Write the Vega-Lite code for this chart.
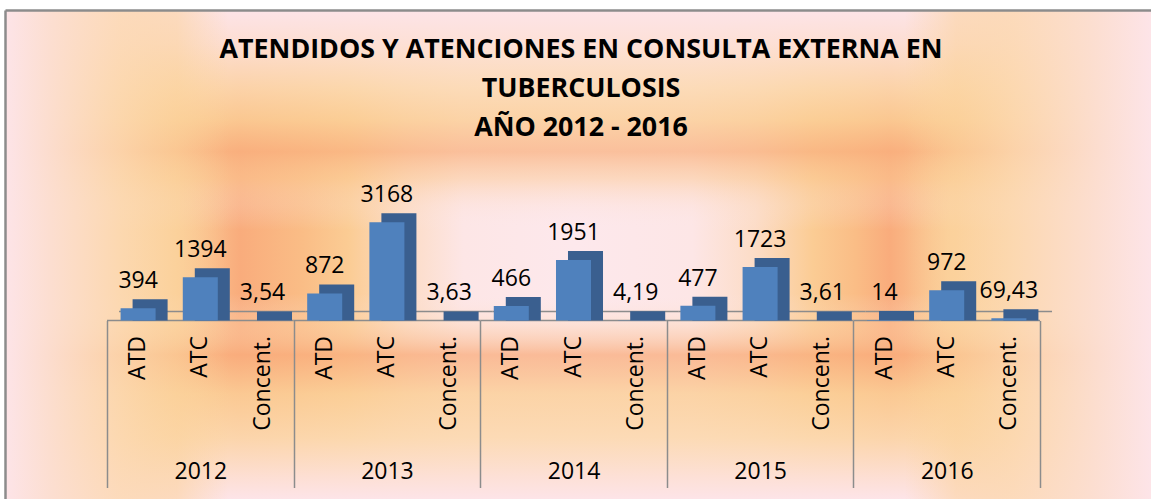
{
  "$schema": "https://vega.github.io/schema/vega-lite/v6.json",
  "width": 1146,
  "height": 489,
  "autosize": {"type": "none"},
  "padding": {"left": 5, "top": 10, "right": 0, "bottom": 0},
  "background": "white",
  "title": {
    "text": ["ATENDIDOS Y ATENCIONES EN CONSULTA EXTERNA EN", "TUBERCULOSIS", "AÑO 2012 - 2016"],
    "font": "Open Sans",
    "fontSize": 26.8,
    "fontWeight": "bold",
    "color": "#000000",
    "anchor": "middle",
    "frame": "group",
    "baseline": "top",
    "lineHeight": 39,
    "offset": 0,
    "dy": 132,
    "dx": 3,
    "zindex": 2
  },
  "config": {
    "view": {
      "stroke": null,
      "fill": {
        "gradient": "linear",
        "x1": 0, "y1": 0, "x2": 1, "y2": 0,
        "stops": [
          {"offset": 0.004, "color": "#fde4e8"},
          {"offset": 0.05, "color": "#fcdccb"},
          {"offset": 0.1, "color": "#fcd8b0"},
          {"offset": 0.15, "color": "#fbd09a"},
          {"offset": 0.205, "color": "#f9ac7c"},
          {"offset": 0.26, "color": "#fabd86"},
          {"offset": 0.3, "color": "#fbcc94"},
          {"offset": 0.35, "color": "#fcdcc6"},
          {"offset": 0.4, "color": "#fde6e6"},
          {"offset": 0.497, "color": "#fde8ec"},
          {"offset": 0.6, "color": "#fde6e6"},
          {"offset": 0.655, "color": "#fcdcc6"},
          {"offset": 0.705, "color": "#fbcc94"},
          {"offset": 0.742, "color": "#fabd86"},
          {"offset": 0.772, "color": "#f9ac7c"},
          {"offset": 0.825, "color": "#fbd09a"},
          {"offset": 0.877, "color": "#fcd8b0"},
          {"offset": 0.94, "color": "#fcdccb"},
          {"offset": 0.995, "color": "#fde4e8"}
        ]
      }
    }
  },
  "datasets": {
    "rows": [
      {"year": "2012", "cat": "ATD", "key": "2012|ATD", "value": 394, "label": "394"},
      {"year": "2012", "cat": "ATC", "key": "2012|ATC", "value": 1394, "label": "1394"},
      {"year": "2012", "cat": "Concent.", "key": "2012|Concent.", "value": 3.54, "label": "3,54"},
      {"year": "2013", "cat": "ATD", "key": "2013|ATD", "value": 872, "label": "872"},
      {"year": "2013", "cat": "ATC", "key": "2013|ATC", "value": 3168, "label": "3168"},
      {"year": "2013", "cat": "Concent.", "key": "2013|Concent.", "value": 3.63, "label": "3,63"},
      {"year": "2014", "cat": "ATD", "key": "2014|ATD", "value": 466, "label": "466"},
      {"year": "2014", "cat": "ATC", "key": "2014|ATC", "value": 1951, "label": "1951"},
      {"year": "2014", "cat": "Concent.", "key": "2014|Concent.", "value": 4.19, "label": "4,19"},
      {"year": "2015", "cat": "ATD", "key": "2015|ATD", "value": 477, "label": "477"},
      {"year": "2015", "cat": "ATC", "key": "2015|ATC", "value": 1723, "label": "1723"},
      {"year": "2015", "cat": "Concent.", "key": "2015|Concent.", "value": 3.61, "label": "3,61"},
      {"year": "2016", "cat": "ATD", "key": "2016|ATD", "value": 14, "label": "14"},
      {"year": "2016", "cat": "ATC", "key": "2016|ATC", "value": 972, "label": "972"},
      {"year": "2016", "cat": "Concent.", "key": "2016|Concent.", "value": 69.43, "label": "69,43"}
    ],
    "years": [
      {"year": "2012"}, {"year": "2013"}, {"year": "2014"}, {"year": "2015"}, {"year": "2016"}
    ],
    "one": [{"bg": 1}]
  },
  "resolve": {"scale": {"x": "independent"}, "axis": {"x": "independent"}},
  "layer": [
    {
      "data": {"name": "one"},
      "mark": {
        "type": "rect",
        "fill": {
          "gradient": "linear",
          "x1": 0, "y1": 0, "x2": 0, "y2": 1,
          "stops": [
            {"offset": 0.0, "color": "rgba(253,228,232,1)"},
            {"offset": 0.07, "color": "rgba(253,224,214,0.95)"},
            {"offset": 0.16, "color": "rgba(252,217,176,0.85)"},
            {"offset": 0.225, "color": "rgba(251,206,150,0.8)"},
            {"offset": 0.29, "color": "rgba(249,176,126,0.72)"},
            {"offset": 0.345, "color": "rgba(251,200,148,0.5)"},
            {"offset": 0.4, "color": "rgba(252,222,205,0.25)"},
            {"offset": 0.45, "color": "rgba(253,232,236,0)"},
            {"offset": 0.58, "color": "rgba(253,232,236,0)"},
            {"offset": 0.635, "color": "rgba(252,215,180,0.3)"},
            {"offset": 0.705, "color": "rgba(249,172,124,0.75)"},
            {"offset": 0.785, "color": "rgba(251,207,152,0.82)"},
            {"offset": 0.875, "color": "rgba(252,217,176,0.9)"},
            {"offset": 0.955, "color": "rgba(253,224,214,0.97)"},
            {"offset": 1.0, "color": "rgba(253,228,232,1)"}
          ]
        }
      },
      "encoding": {}
    },
    {
      "data": {"name": "one"},
      "mark": {
        "type": "rect",
        "fill": {
          "gradient": "linear",
          "x1": 0, "y1": 0, "x2": 1, "y2": 0,
          "stops": [
            {"offset": 0.0, "color": "rgba(253,228,232,1)"},
            {"offset": 0.04, "color": "rgba(252,222,208,0.95)"},
            {"offset": 0.1, "color": "rgba(252,216,176,0.8)"},
            {"offset": 0.15, "color": "rgba(251,210,156,0.55)"},
            {"offset": 0.195, "color": "rgba(251,210,156,0)"},
            {"offset": 0.785, "color": "rgba(251,210,156,0)"},
            {"offset": 0.83, "color": "rgba(251,210,156,0.55)"},
            {"offset": 0.88, "color": "rgba(252,216,176,0.8)"},
            {"offset": 0.95, "color": "rgba(252,222,208,0.95)"},
            {"offset": 1.0, "color": "rgba(253,228,232,1)"}
          ]
        }
      },
      "encoding": {}
    },
    {
      "data": {"name": "years"},
      "mark": {"type": "bar", "fill": null, "stroke": "#8c8c8c", "strokeWidth": 1.5, "xOffset": 12, "yOffset": -9, "y2Offset": -9},
      "encoding": {
        "x": {"field": "year", "type": "nominal", "sort": null,
              "scale": {"type": "band", "paddingInner": 0, "paddingOuter": 0.5708, "align": 0.479},
              "axis": {"orient": "top", "domain": true, "domainColor": "#8c8c8c", "domainWidth": 2.5, "ticks": false, "labels": false, "title": null, "zindex": 1}},
        "y": {"datum": 0, "type": "quantitative", "scale": {"domain": [-5758, 10016], "nice": false, "zero": false},
              "axis": {"orient": "left", "domain": true, "domainColor": "#8c8c8c", "domainWidth": 2.5, "ticks": false, "labels": false, "grid": false, "title": null, "zindex": 1}},
        "y2": {"datum": 0}
      }
    },
    {
      "data": {"name": "years"},
      "mark": {"type": "bar", "fill": null, "stroke": "#8c8c8c", "strokeWidth": 1.5},
      "encoding": {
        "x": {"field": "year", "type": "nominal", "sort": null,
              "scale": {"type": "band", "paddingInner": 0, "paddingOuter": 0.5708, "align": 0.479},
              "axis": {"orient": "bottom", "offset": -178.5, "domain": false, "ticks": true, "tickBand": "extent",
                       "tickSize": 167, "tickColor": "#8c8c8c", "tickWidth": 1.5, "labelPadding": -27,
                       "labelAngle": 0, "labelFont": "Open Sans", "labelFontSize": 23, "labelColor": "#000000", "title": null, "zindex": 1}},
        "y": {"datum": 0, "type": "quantitative"},
        "y2": {"datum": 0}
      }
    },
    {
      "data": {"name": "rows"},
      "mark": {"type": "bar", "fill": "#3a5f8f", "xOffset": 12, "yOffset": -9, "y2Offset": 0},
      "encoding": {
        "x": {"field": "key", "type": "nominal", "sort": null,
              "scale": {"type": "band", "range": [102, 1035], "paddingInner": 0.437, "paddingOuter": 0.2185},
              "axis": {"orient": "bottom", "offset": -178.5, "domain": false, "ticks": false, "labelAngle": -90,
                       "labelAlign": "right", "labelBaseline": "middle", "labelPadding": 15,
                       "labelExpr": "split(datum.value, '|')[1]", "labelFont": "Open Sans", "labelFontSize": 23,
                       "labelColor": "#000000", "title": null, "zindex": 1}},
        "y": {"field": "value", "type": "quantitative"},
        "y2": {"datum": 0}
      }
    },
    {
      "data": {"name": "rows"},
      "mark": {"type": "bar", "fill": "#4f81bd"},
      "encoding": {
        "x": {"field": "key", "type": "nominal", "sort": null,
              "scale": {"type": "band", "range": [102, 1035], "paddingInner": 0.437, "paddingOuter": 0.2185}, "axis": null},
        "y": {"field": "value", "type": "quantitative"},
        "y2": {"datum": 0}
      }
    },
    {
      "data": {"name": "rows"},
      "mark": {"type": "text", "font": "Open Sans", "fontSize": 23, "baseline": "alphabetic", "dy": -20, "color": "#000000"},
      "encoding": {
        "x": {"field": "key", "type": "nominal", "sort": null,
              "scale": {"type": "band", "range": [102, 1035], "paddingInner": 0.437, "paddingOuter": 0.2185}, "axis": null},
        "y": {"field": "value", "type": "quantitative"},
        "text": {"field": "label"}
      }
    }
  ]
}
